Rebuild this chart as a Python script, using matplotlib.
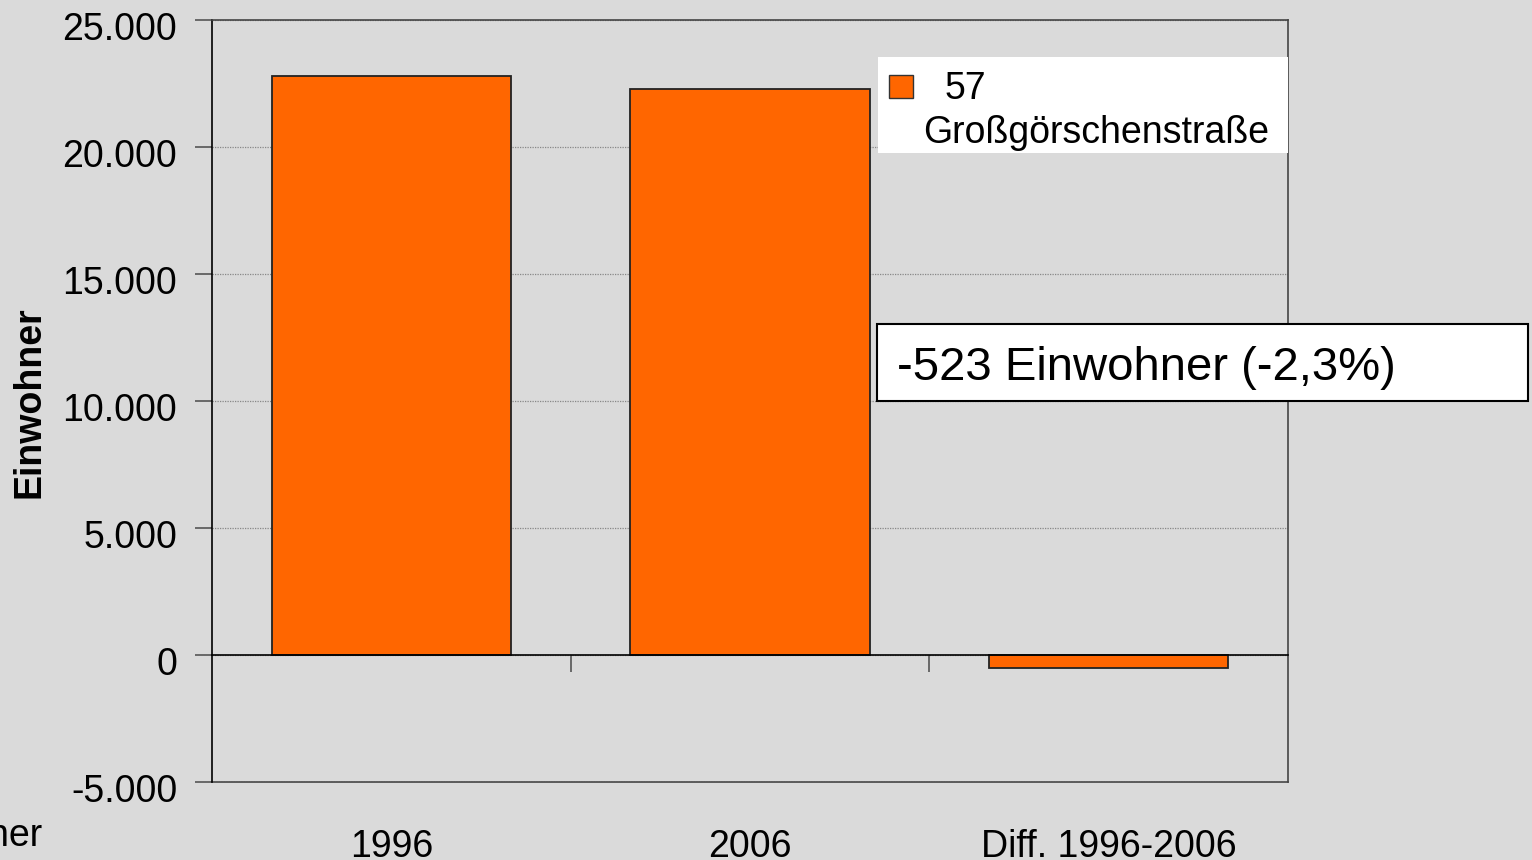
import matplotlib
matplotlib.use("Agg")
import matplotlib.pyplot as plt
import matplotlib.ticker as mticker
import matplotlib.transforms as mtransforms
from matplotlib.patches import Rectangle

# data
categories = ["1996", "2006", "Diff. 1996-2006"]
einwohner = [22790, 22267, -523]
legend_label = "57"
legend_label2 = "Großgörschenstraße"
note = "-523 Einwohner (-2,3%)"
yticks = [-5000, 0, 5000, 10000, 15000, 20000, 25000]

bg = "#dadada"
orange = "#ff6600"
W, H = 1532, 860

plt.rcParams["font.family"] = ["Liberation Sans", "DejaVu Sans"]

fig = plt.figure(figsize=(W / 100, H / 100), dpi=100, facecolor=bg)
ax = fig.add_axes([212 / W, 78 / H, 1076 / W, 762 / H], facecolor=bg)


def px(x, y):
    # figure pixel (from top-left) -> figure fraction
    return x / W, 1 - y / H


x = range(len(categories))
ax.bar(x, einwohner, width=0.667, color=orange, edgecolor="#222222",
       linewidth=1.3, zorder=3)

ax.set_xlim(-0.5, 2.5)
ax.set_ylim(-5000, 25000)
ax.set_yticks(yticks)
ax.yaxis.set_major_formatter(mticker.FuncFormatter(
    lambda v, p: f"{int(v):,}".replace(",", ".")))
ax.tick_params(axis="y", labelsize=27, length=12, width=1.2,
               color="#555555", pad=13)
# labels sit a little below their tick in the original
shift = mtransforms.ScaledTranslation(0, -6 / 100, fig.dpi_scale_trans)
for lbl in ax.get_yticklabels():
    lbl.set_transform(lbl.get_transform() + shift)
ax.grid(axis="y", linestyle=(0, (1, 1)), color="#888888", linewidth=0.9,
        zorder=0)

# bottom spine sits on the zero line, ticks between categories
ax.spines["bottom"].set_position(("data", 0))
ax.spines["bottom"].set_color("black")
ax.spines["bottom"].set_linewidth(1.2)
ax.spines["bottom"].set_zorder(4)
ax.set_xticks([0.5, 1.5])
ax.set_xticklabels([])
ax.tick_params(axis="x", length=12, width=1.2, color="#555555")
ax.spines["left"].set_color("black")
ax.spines["left"].set_linewidth(1.2)
for s in ["top", "right"]:
    ax.spines[s].set_color("#444444")
    ax.spines[s].set_linewidth(1.2)

# category labels along the lower frame
sec = ax.secondary_xaxis(0.0)
sec.set_xticks(list(x))
sec.set_xticklabels(categories)
sec.tick_params(length=0, labelsize=27, pad=34)
sec.spines["bottom"].set_color("#444444")
sec.spines["bottom"].set_linewidth(1.2)

fig.text(*px(30, 402), "Einwohner", rotation=90, ha="center", va="center",
         fontsize=27, fontweight="bold")
fig.text(*px(43, 836), "Einwohner", ha="right", va="center", fontsize=27)

# legend box
fig.patches.append(Rectangle(px(878, 153), 410 / W, 96 / H,
                             transform=fig.transFigure, facecolor="white",
                             edgecolor="none", zorder=5))
fig.patches.append(Rectangle(px(889, 98), 24 / W, 23 / H,
                             transform=fig.transFigure, facecolor=orange,
                             edgecolor="#333333", linewidth=1, zorder=6))
fig.text(*px(945, 89), legend_label, ha="left", va="center", fontsize=27,
         zorder=7)
fig.text(*px(923, 133), legend_label2, ha="left", va="center", fontsize=27,
         zorder=7)

# annotation box
fig.patches.append(Rectangle(px(877, 401), 651 / W, 77 / H,
                             transform=fig.transFigure, facecolor="white",
                             edgecolor="black", linewidth=1.5, zorder=5))
fig.text(*px(897, 368), note, ha="left", va="center", fontsize=34, zorder=7)

fig.savefig("out.png", dpi=100, facecolor=bg)
